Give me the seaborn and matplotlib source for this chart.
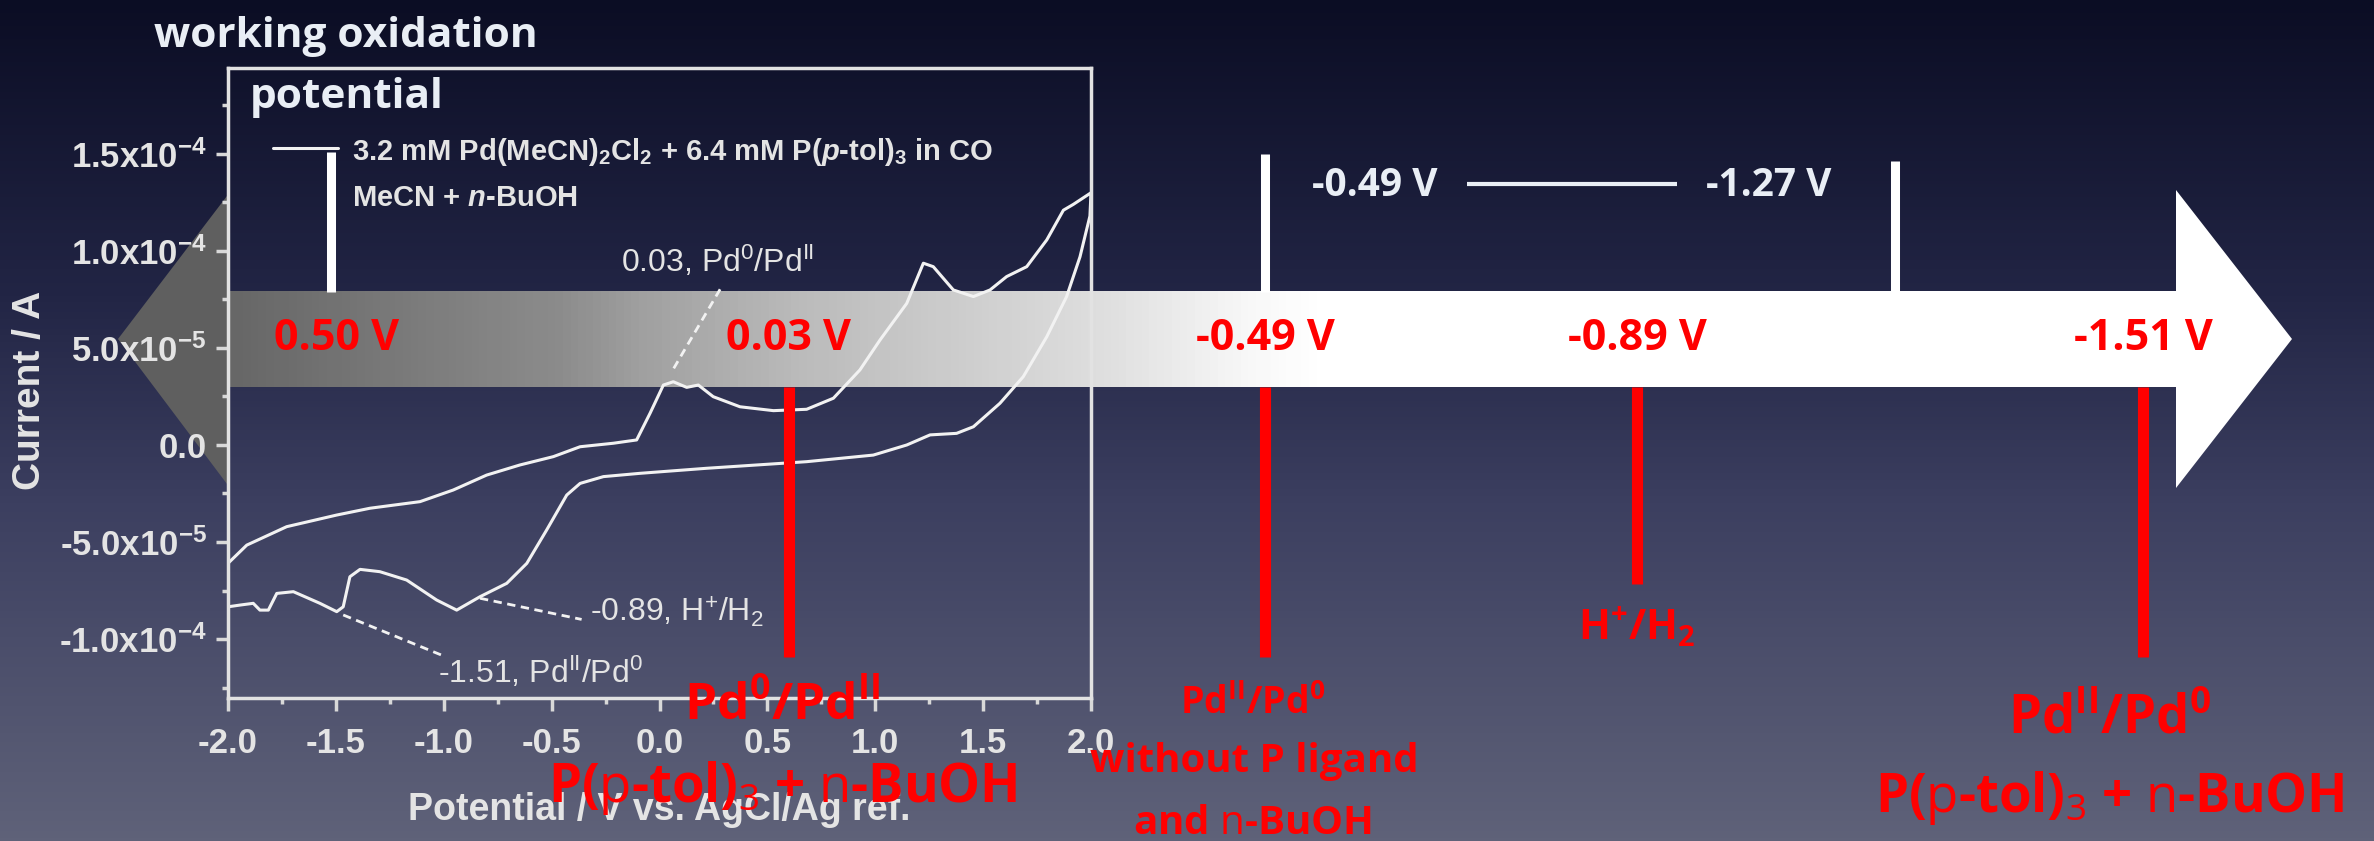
import numpy as np
import pandas as pd
import matplotlib
matplotlib.use("Agg")
import matplotlib.pyplot as plt
import seaborn as sns
from matplotlib.colors import LinearSegmentedColormap
from matplotlib.patches import Polygon

# cyclic voltammogram, in scan order (V, A)
potential = [-2.0, -1.913, -1.728, -1.496, -1.342, -1.110, -0.956, -0.801, -0.647, -0.492,
             -0.368, -0.214, -0.106, -0.044, 0.018, 0.064, 0.126, 0.180, 0.249, 0.373,
             0.528, 0.682, 0.806, 0.929, 1.022, 1.146, 1.223, 1.269, 1.362, 1.455,
             1.532, 1.609, 1.702, 1.795, 1.872, 1.918, 2.0,
             1.995, 1.949, 1.887, 1.795, 1.686, 1.578, 1.455, 1.377, 1.254, 1.146,
             0.991, 0.682, 0.219, -0.090, -0.260, -0.368, -0.430, -0.523, -0.615, -0.708,
             -0.832, -0.940, -1.033, -1.172, -1.296, -1.388, -1.435, -1.466, -1.496, -1.574,
             -1.697, -1.774, -1.813, -1.852, -1.883, -1.944, -2.0]
current_e5 = [-6.10, -5.16, -4.21, -3.61, -3.26, -2.92, -2.32, -1.55, -1.03, -0.60,
              -0.09, 0.09, 0.26, 1.63, 3.09, 3.26, 2.97, 3.09, 2.49, 1.97,
              1.77, 1.84, 2.41, 3.87, 5.41, 7.30, 9.37, 9.19, 7.99, 7.65,
              7.99, 8.68, 9.19, 10.57, 12.1, 12.4, 13.0,
              11.8, 9.7, 7.65, 5.58, 3.52, 2.15, 0.94, 0.60, 0.52, 0.0,
              -0.52, -0.86, -1.20, -1.46, -1.63, -1.98, -2.58, -4.38, -6.10, -7.13,
              -7.82, -8.51, -7.99, -6.96, -6.53, -6.41, -6.79, -8.34, -8.59, -8.16,
              -7.56, -7.65, -8.51, -8.51, -8.16, -8.25, -8.34]
current = [c * 1e-5 for c in current_e5]

x_ticks = [-2.0, -1.5, -1.0, -0.5, 0.0, 0.5, 1.0, 1.5, 2.0]
y_ticks = [-1e-4, -5e-5, 0.0, 5e-5, 1e-4, 1.5e-4]
y_ticklabels = [r"-1.0x10$^{\mathsf{-4}}$", r"-5.0x10$^{\mathsf{-5}}$", "0.0",
                r"5.0x10$^{\mathsf{-5}}$", r"1.0x10$^{\mathsf{-4}}$", r"1.5x10$^{\mathsf{-4}}$"]

# peak labels inside the CV: text, text anchor, leader start, leader end
cv_labels = [r"0.03, Pd$^{\mathtt{0}}$/Pd$^{\mathtt{II}}$",
             r"-0.89, H$^{\mathtt{+}}$/H$_{\mathtt{2}}$",
             r"-1.51, Pd$^{\mathtt{II}}$/Pd$^{\mathtt{0}}$"]
cv_label_xy = [(-0.178, 8.92e-5), (-0.322, -9.12e-5), (-1.027, -1.227e-4)]
cv_lead_from = [(0.066, 3.95e-5), (-0.832, -7.9e-5), (-1.466, -8.76e-5)]
cv_lead_to = [(0.288, 8.16e-5), (-0.361, -8.99e-5), (-1.010, -1.083e-4)]

# potentials marked on the arrow
mark_volts = [0.50, 0.03, -0.49, -0.89, -1.51]
window_volts = [-0.49, -1.27]

W, H = 2374, 841
RED = "#ff0000"
WHITE = "#e9eef5"
CHART = "#e4e4e4"

sns.set_style("ticks")
plt.rcParams["font.family"] = ["Liberation Sans", "DejaVu Sans"]
plt.rcParams["mathtext.fontset"] = "custom"
plt.rcParams["mathtext.rm"] = "Open Sans"
plt.rcParams["mathtext.bf"] = "Open Sans:bold"
plt.rcParams["mathtext.sf"] = "Liberation Sans:bold"
plt.rcParams["mathtext.tt"] = "Liberation Sans"
plt.rcParams["mathtext.it"] = "Liberation Sans:bold:italic"

fig = plt.figure(figsize=(W / 100, H / 100), dpi=100)

# ---- slide background, arrow (pixel coordinates) ----
bg = fig.add_axes([0, 0, 1, 1], zorder=0)
bg.set_xlim(0, W)
bg.set_ylim(H, 0)
bg.axis("off")
bg_cmap = LinearSegmentedColormap.from_list(
    "bg", [(0, "#0b0d24"), (0.35, "#222545"), (0.6, "#3c3f60"), (1, "#5f6279")])
bg.imshow(np.linspace(0, 1, 256)[:, None], extent=[0, W, H, 0], aspect="auto", cmap=bg_cmap)

band_cmap = LinearSegmentedColormap.from_list(
    "band", [(0, "#676767"), (0.17, "#8c8c8c"), (0.211, "#a0a0a0"), (0.293, "#bbbbbb"),
             (0.396, "#d2d2d2"), (0.447, "#dedede"), (0.524, "#f8f8f8"), (0.56, "#ffffff"),
             (1, "#ffffff")])
bg.imshow(np.linspace(0, 1, 512)[None, :], extent=[228, 2177, 387, 292], aspect="auto",
          cmap=band_cmap)
bg.add_patch(Polygon([(118, 339), (230, 192), (230, 488)], closed=True, color="#5f5f5f", lw=0))
bg.add_patch(Polygon([(2176, 190), (2292, 339), (2176, 488)], closed=True, color="#ffffff", lw=0))

# ---- the CV chart ----
ax = fig.add_axes([228 / W, 1 - 698 / H, 863 / W, 630 / H], zorder=2)
ax.patch.set_alpha(0)
df = pd.DataFrame({"potential": potential, "current": current})
sns.lineplot(data=df, x="potential", y="current", sort=False, estimator=None,
             color="#f2f2f2", lw=2.2, ax=ax)
ax.set_xlim(-2, 2)
ax.set_ylim(-1.304e-4, 1.943e-4)
ax.set_xticks(x_ticks, labels=[f"{v:.1f}" for v in x_ticks])
ax.set_xticks(np.arange(-1.75, 2.0, 0.5), minor=True)
ax.set_yticks(y_ticks, labels=y_ticklabels)
ax.set_yticks(np.arange(-1.25e-4, 1.8e-4, 5e-5), minor=True)
ax.tick_params(which="major", direction="out", length=9, width=2.5, color="#d8d8d8",
               labelcolor=CHART, labelsize=25)
ax.tick_params(which="minor", direction="out", length=4, width=2.5, color="#d8d8d8")
ax.tick_params(axis="x", pad=12)
ax.tick_params(axis="y", pad=6)
for lab in ax.get_xticklabels() + ax.get_yticklabels():
    lab.set_fontweight("bold")
for sp in ax.spines.values():
    sp.set_visible(True)
    sp.set_color("#e2e2e2")
    sp.set_linewidth(2.5)
ax.set_xlabel("Potential / V vs. AgCl/Ag ref.", fontsize=27, fontweight="bold", color=CHART)
ax.xaxis.set_label_coords(0.5, -0.178)
ax.xaxis.label.set_verticalalignment("center")
ax.set_ylabel("Current / A", fontsize=28, fontweight="bold", color=CHART)
ax.yaxis.set_label_coords(-0.229, 0.489)
ax.yaxis.label.set_verticalalignment("center")

# legend entry of the original figure
ax.plot([-1.791, -1.490], [1.531e-4, 1.531e-4], color="#f2f2f2", lw=2.2)
ax.text(-1.425, 1.469e-4,
        r"3.2 mM Pd(MeCN)$_{\mathsf{2}}$Cl$_{\mathsf{2}}$ + 6.4 mM P($\mathit{p}$-tol)$_{\mathsf{3}}$ in CO",
        fontsize=21, fontweight="bold", color=CHART, va="baseline")
ax.text(-1.425, 1.232e-4, r"MeCN + $\mathit{n}$-BuOH",
        fontsize=21, fontweight="bold", color=CHART, va="baseline")

for txt, (tx, ty), (x0, y0), (x1, y1) in zip(cv_labels, cv_label_xy, cv_lead_from, cv_lead_to):
    ax.plot([x0, x1], [y0, y1], color="#f2f2f2", lw=2, ls=(0, (3, 2)))
    ax.text(tx, ty, txt, fontsize=23, color=CHART, va="baseline")

# ---- overlay: markers on the arrow (pixel coordinates) ----
top = fig.add_axes([0, 0, 1, 1], zorder=3)
top.set_xlim(0, W)
top.set_ylim(H, 0)
top.axis("off")
OS = ["Open Sans", "DejaVu Sans"]

mark_x = [337, 789, 1265, 1637, 2143]
mark_bottom = [None, 657, 657, 584, 657]
for v, x, yb in zip(mark_volts, mark_x, mark_bottom):
    top.text(x, 350, f"{v:.2f} V", ha="center", va="baseline", fontsize=31,
             fontweight="bold", color=RED, family=OS)
    if yb is not None:
        top.plot([x, x], [387, yb], color=RED, lw=8, solid_capstyle="butt")

# working window bars
for x, yt in zip([331, 1265, 1895], [152, 154, 161]):
    top.plot([x, x], [yt, 292], color="#ffffff", lw=6.5, solid_capstyle="butt")
top.text(1375, 196, f"{window_volts[0]:.2f} V", ha="center", va="baseline", fontsize=28,
         fontweight="bold", color=WHITE, family=OS)
top.text(1769, 196, f"{window_volts[1]:.2f} V", ha="center", va="baseline", fontsize=28,
         fontweight="bold", color=WHITE, family=OS)
top.plot([1467, 1677], [184, 184], color=WHITE, lw=3, solid_capstyle="butt")

top.text(154, 47, "working oxidation", ha="left", va="baseline", fontsize=30.5,
         fontweight="bold", color=WHITE, family=OS)
top.text(250, 108, "potential", ha="left", va="baseline", fontsize=30.5,
         fontweight="bold", color=WHITE, family=OS)

ptol = r"P($\mathrm{p}$-tol)$_{\mathrm{3}}$ + $\mathrm{n}$-BuOH"
red_labels = [
    (782, 720, r"Pd$^{\mathbf{0}}$/Pd$^{\mathbf{II}}$", 37),
    (783, 802, ptol, 38),
    (1253, 714, r"Pd$^{\mathbf{II}}$/Pd$^{\mathbf{0}}$", 27),
    (1254, 772, "without P ligand", 29),
    (1253, 834, r"and $\mathrm{n}$-BuOH", 29),
    (1637, 640, r"H$^{\mathbf{+}}$/H$_{\mathbf{2}}$", 30),
    (2110, 734, r"Pd$^{\mathbf{II}}$/Pd$^{\mathbf{0}}$", 38),
    (2110, 812, ptol, 38),
]
for x, y, s, fs in red_labels:
    top.text(x, y, s, ha="center", va="baseline", fontsize=fs, fontweight="bold",
             color=RED, family=OS)

fig.savefig("out.png", dpi=100)
